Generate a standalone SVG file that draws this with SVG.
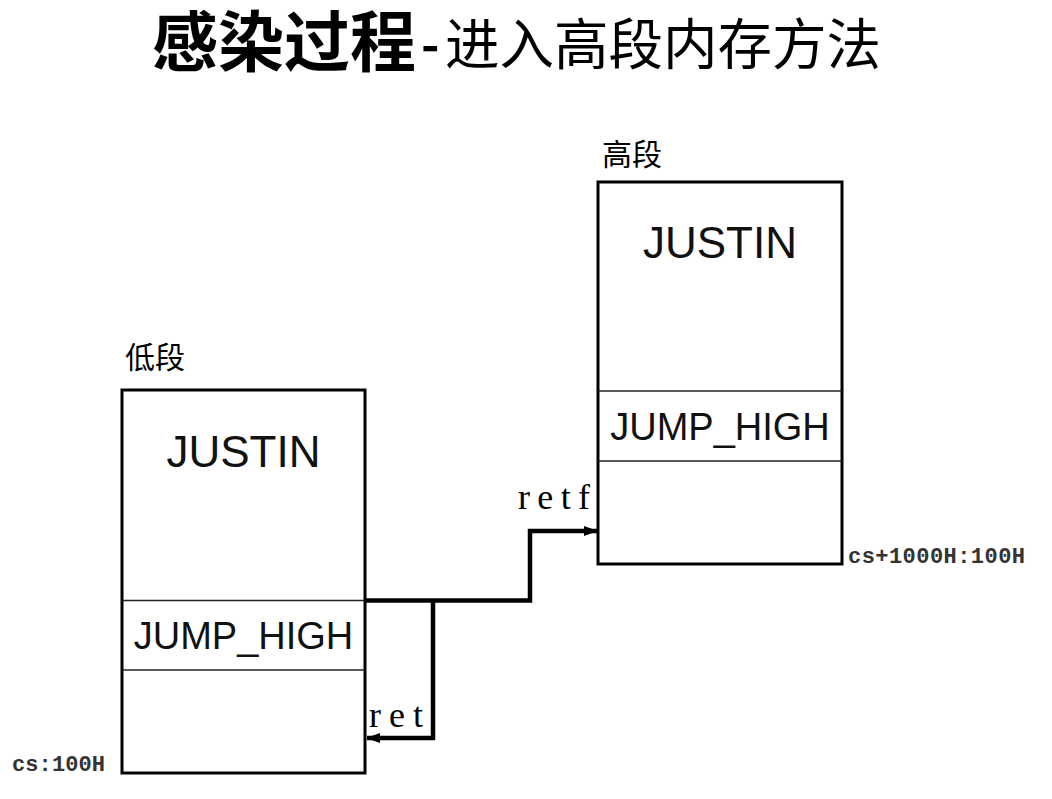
<svg xmlns="http://www.w3.org/2000/svg" width="1052" height="799" viewBox="0 0 1052 799">
<style>
.box{fill:#fff;stroke:#000;stroke-width:3}
.div{stroke:#222;stroke-width:1.5}
.big{font-family:"Liberation Sans",Arial,sans-serif;font-size:44px;fill:#111;text-anchor:middle}
.mid{font-family:"Liberation Sans",Arial,sans-serif;font-size:38px;fill:#111;text-anchor:middle}
.cjk{font-family:"Noto Sans CJK SC","Noto Sans",sans-serif;fill:#000}
.addr{font-family:"Liberation Mono","Courier New",monospace;font-weight:bold;font-size:22px;fill:#333}
.op{font-family:"Liberation Serif","Times New Roman",serif;font-size:36px;fill:#000}
.conn{fill:none;stroke:#000;stroke-width:4.5;stroke-linejoin:miter}
</style>
<defs>
<marker id="arr" markerUnits="userSpaceOnUse" markerWidth="14" markerHeight="12" refX="13" refY="6" orient="auto">
<path d="M0,1 L14,6 L0,11 Z" fill="#000"/>
</marker>
</defs>
<rect width="1052" height="799" fill="#fff"/>
<g id="title">
<text class="cjk" x="152" y="66" font-size="66" font-weight="bold">感染过程</text>
<text class="cjk" x="421" y="63" font-size="50" font-weight="bold">-</text>
<text class="cjk" x="445" y="64" font-size="54.5">进入高段内存方法</text>
</g>
<g id="low-segment">
<rect class="box" x="122" y="390" width="243" height="383"/>
<line class="div" x1="122" y1="600.5" x2="365" y2="600.5"/>
<line class="div" x1="122" y1="670" x2="365" y2="670"/>
<text class="big" x="243.5" y="467">JUSTIN</text>
<text class="mid" x="243.5" y="649">JUMP_HIGH</text>
<text class="cjk" x="125" y="368" font-size="30">低段</text>
<text class="addr" x="12" y="771" textLength="93">cs:100H</text>
</g>
<g id="high-segment">
<rect class="box" x="598" y="182" width="244" height="382"/>
<line class="div" x1="598" y1="391" x2="842" y2="391"/>
<line class="div" x1="598" y1="461" x2="842" y2="461"/>
<text class="big" x="720" y="258">JUSTIN</text>
<text class="mid" x="720" y="440">JUMP_HIGH</text>
<text class="cjk" x="602" y="165" font-size="30">高段</text>
<text class="addr" x="848" y="563" textLength="177">cs+1000H:100H</text>
</g>
<g id="connectors">
<path class="conn" d="M365,600.5 H530 V531 H597" marker-end="url(#arr)"/>
<path class="conn" d="M433,600.5 V738 H367" marker-end="url(#arr)"/>
<text class="op" x="518" y="509" textLength="72">retf</text>
<text class="op" x="369" y="727" textLength="54">ret</text>
</g>
</svg>
